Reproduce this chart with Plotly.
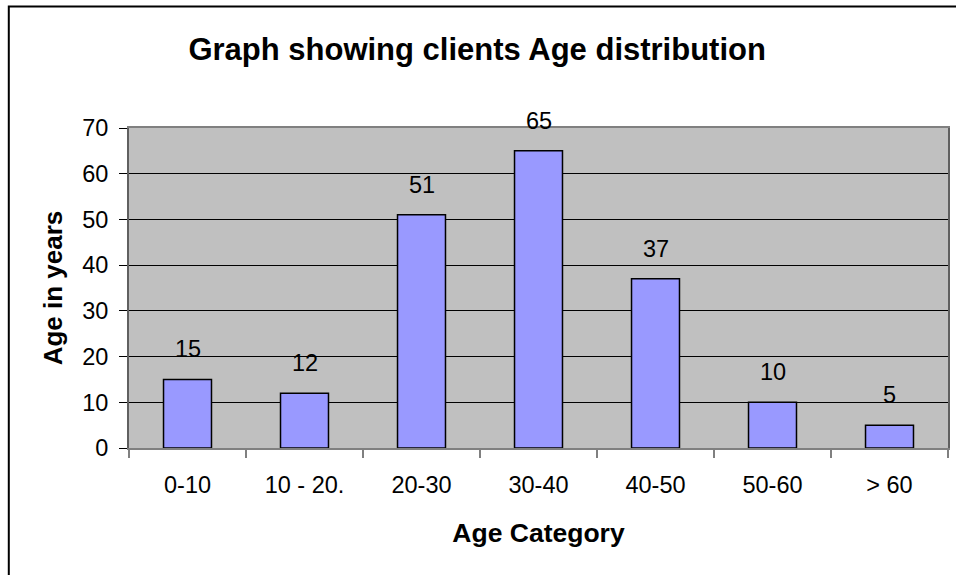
import plotly.graph_objects as go

categories = ["0-10", "10 - 20.", "20-30", "30-40", "40-50", "50-60", "> 60"]
values = [15, 12, 51, 65, 37, 10, 5]
y_ticks = [0, 10, 20, 30, 40, 50, 60, 70]

W, H = 956, 575
ML, MR, MT, MB = 129, 6, 128, 127
pw, ph = W - ML - MR, H - MT - MB

FONT = "Liberation Sans, Arial, sans-serif"
TICK = 23.5

fig = go.Figure()
fig.add_trace(go.Bar(
    x=categories, y=values,
    marker=dict(color="#9999FF", line=dict(color="black", width=1.5)),
    hoverinfo="x+y",
))

for c, v in zip(categories, values):
    fig.add_annotation(x=c, y=v, text=str(v), showarrow=False,
                       xref="x", yref="y", yanchor="bottom", yshift=15,
                       font=dict(size=TICK, color="black", family=FONT))

# outer chart border
fig.add_shape(type="rect", xref="paper", yref="paper",
              x0=(8.5 - ML) / pw, x1=(W + 20 - ML) / pw,
              y0=-(H + 20 - MT - ph) / ph, y1=1 + (MT - 6.5) / ph,
              line=dict(color="black", width=2), layer="above")

fig.update_layout(
    width=W, height=H,
    margin=dict(l=ML, r=MR, t=MT, b=MB),
    paper_bgcolor="white",
    plot_bgcolor="#C0C0C0",
    bargap=0.59,
    showlegend=False,
    font=dict(family=FONT, color="black"),
    title=dict(text="<b>Graph showing clients Age distribution</b>",
               x=(478 - ML) / pw, xanchor="center", xref="paper",
               y=1 - 60 / H, yref="container", yanchor="bottom",
               font=dict(size=31, family=FONT, color="black")),
)

fig.update_xaxes(
    showline=True, linecolor="#808080", linewidth=1.5, mirror=True,
    ticks="outside", ticklen=8, tickcolor="#808080", tickwidth=1.5,
    tickson="boundaries",
    tickfont=dict(size=TICK, family=FONT, color="black"),
    ticklabelstandoff=15,
    title=dict(text="<b>Age Category</b>", font=dict(size=26.5, family=FONT, color="black"),
               standoff=26),
    showgrid=False,
)
fig.update_yaxes(
    range=[0, 70], tickvals=y_ticks,
    showline=True, linecolor="#606060", linewidth=2, mirror=True,
    ticks="outside", ticklen=8, tickcolor="black", tickwidth=1,
    tickfont=dict(size=TICK, family=FONT, color="black"),
    ticklabelstandoff=6,
    showgrid=True, gridcolor="black", gridwidth=1,
    zeroline=False,
    title=dict(text="<b>Age in years</b>", font=dict(size=26, family=FONT, color="black"),
               standoff=12),
)

fig.write_html("out.html")
